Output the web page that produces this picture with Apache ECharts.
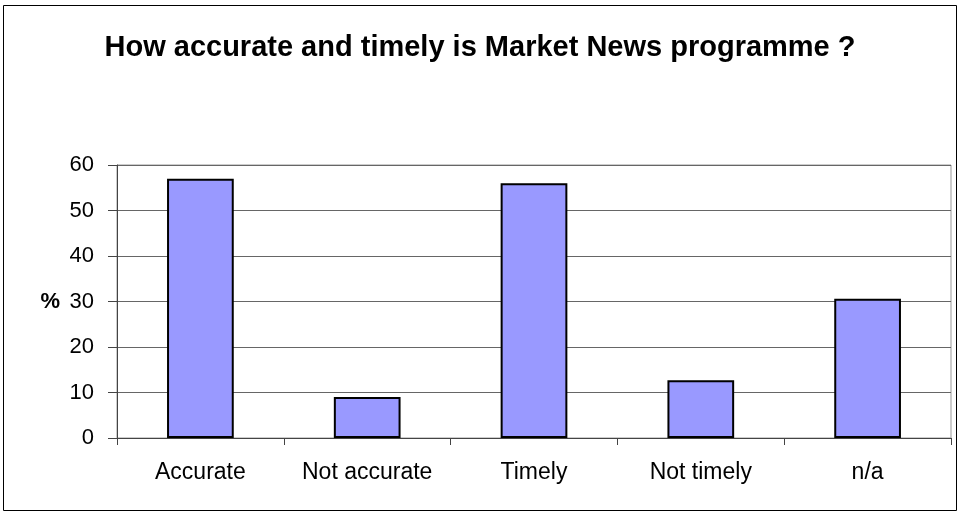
<!DOCTYPE html>
<html>
<head>
<meta charset="utf-8">
<script src="https://cdn.jsdelivr.net/npm/echarts@6/dist/echarts.min.js"></script>
<style>
  html, body { margin: 0; padding: 0; background: #fff; }
  #chart { width: 960px; height: 515px; }
</style>
</head>
<body>
<div id="chart"></div>
<script>
var categories = ['Accurate', 'Not accurate', 'Timely', 'Not timely', 'n/a'];
var percentValues = [57, 9, 56, 12.7, 30.6];
var yTicks = { min: 0, max: 60, interval: 10 };

var font = '"Liberation Sans", Arial, sans-serif';
var chart = echarts.init(document.getElementById('chart'));

chart.setOption({
    animation: false,
    backgroundColor: '#fff',
    title: {
        text: 'How accurate and timely is Market News programme ?',
        left: 'center',
        top: 28,
        textStyle: { fontFamily: font, fontSize: 29, fontWeight: 'bold', color: '#000' }
    },
    graphic: [{
        type: 'rect',
        shape: { x: 3.5, y: 5.5, width: 953, height: 505 },
        style: { fill: 'none', stroke: '#000', lineWidth: 1 },
        silent: true
    }],
    grid: {
        left: 117, right: 9, top: 165, bottom: 77,
        show: true, borderColor: '#999', borderWidth: 1, backgroundColor: 'transparent'
    },
    xAxis: {
        type: 'category',
        data: categories,
        axisLine: { lineStyle: { color: '#444', width: 1 } },
        axisTick: { show: true, length: 7, lineStyle: { color: '#444' } },
        axisLabel: { fontFamily: font, fontSize: 23, color: '#000', margin: 23, interval: 0, hideOverlap: false }
    },
    yAxis: {
        type: 'value',
        min: yTicks.min, max: yTicks.max, interval: yTicks.interval,
        name: '%',
        nameLocation: 'middle',
        nameRotate: 0,
        nameGap: 57,
        nameTextStyle: { fontFamily: font, fontSize: 22, fontWeight: 'bold', color: '#000' },
        axisLine: { show: true, lineStyle: { color: '#444', width: 1 } },
        axisTick: { show: true, length: 9, lineStyle: { color: '#444' } },
        axisLabel: { fontFamily: font, fontSize: 22, color: '#000', margin: 23 },
        splitLine: { show: true, lineStyle: { color: '#666', width: 1 } }
    },
    series: [{
        type: 'bar',
        data: percentValues,
        barWidth: '40%',
        itemStyle: { color: '#9999FF', borderColor: '#000', borderWidth: 2 }
    }]
});
</script>
</body>
</html>
